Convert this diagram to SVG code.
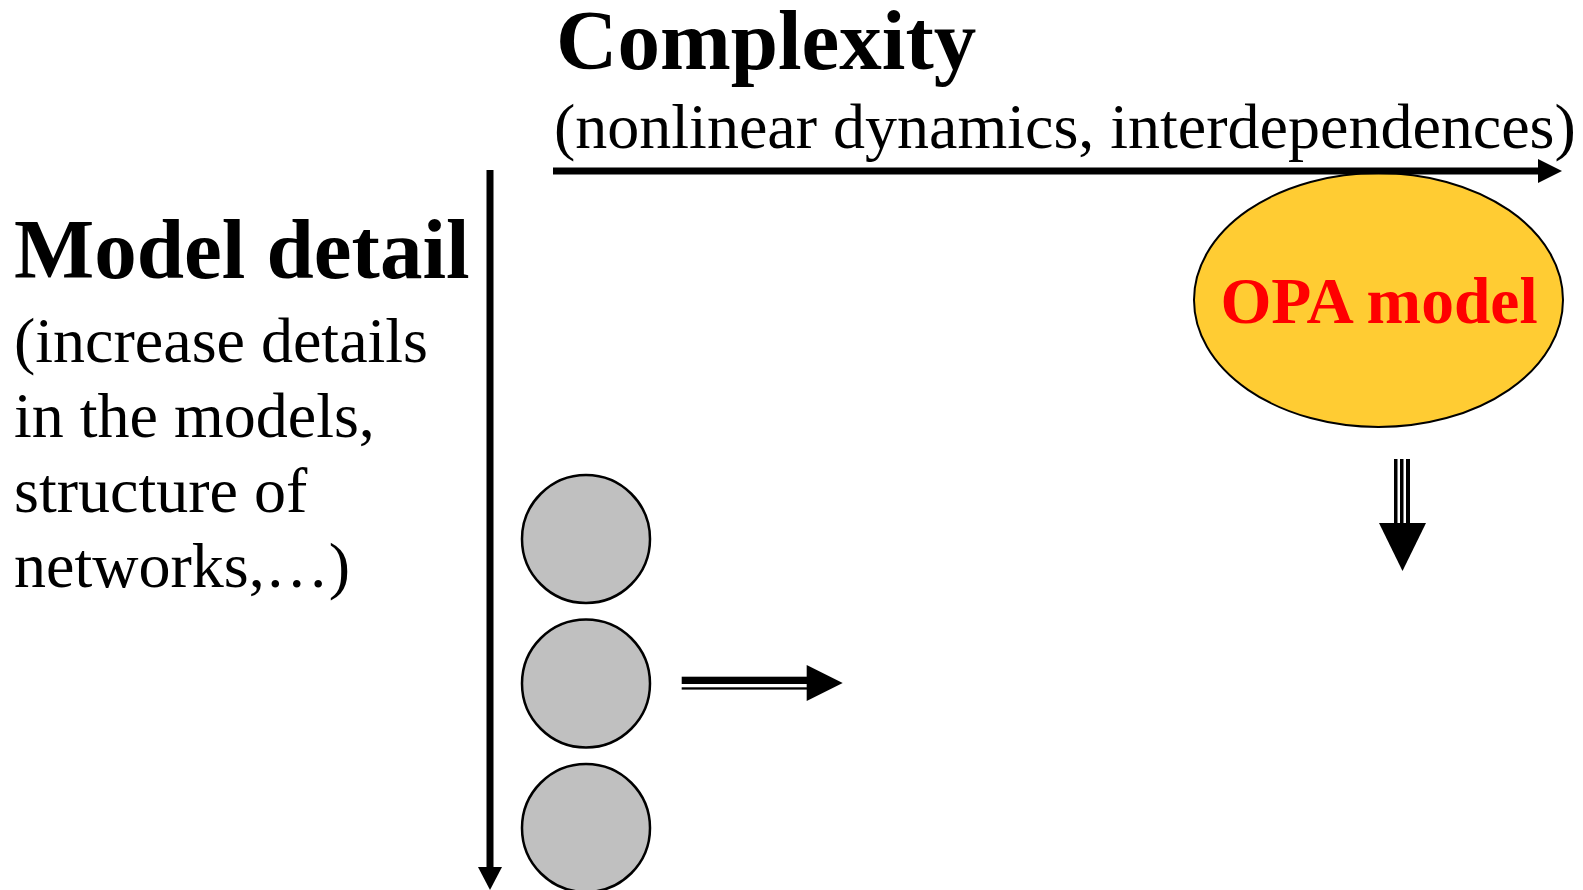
<svg xmlns="http://www.w3.org/2000/svg" width="1583" height="890" viewBox="0 0 1583 890">
<style>
.bold{font-family:"Liberation Serif","Times New Roman",serif;font-weight:bold;font-size:85px;fill:#000}
.reg{font-family:"Liberation Serif","Times New Roman",serif;font-size:64px;fill:#000}
.circ{fill:#C0C0C0;stroke:#000;stroke-width:2.5}
.axis{stroke:#000;stroke-width:7;fill:none}
</style>
<rect width="1583" height="890" fill="#fff"/>
<g id="title-complexity">
<text class="bold" x="556" y="69">Complexity</text>
<text class="reg" x="554" y="148">(nonlinear dynamics, interdependences)</text>
</g>
<g id="title-model-detail">
<text class="bold" x="14" y="278">Model detail</text>
<text class="reg" x="14" y="362">(increase details</text>
<text class="reg" x="14" y="437">in the models,</text>
<text class="reg" x="14" y="512">structure of</text>
<text class="reg" x="14" y="587">networks,…)</text>
</g>
<g id="opa-model">
<ellipse cx="1378.5" cy="300" rx="184.5" ry="127" fill="#FFCC33" stroke="#000" stroke-width="2"/>
<text x="1379" y="323" text-anchor="middle" style="font-family:'Liberation Serif','Times New Roman',serif;font-weight:bold;font-size:65.5px;fill:#FF0000">OPA model</text>
</g>
<g id="circle-1"><circle class="circ" cx="586" cy="539" r="64"/></g>
<g id="circle-2"><circle class="circ" cx="586" cy="683.5" r="64"/></g>
<g id="circle-3"><circle class="circ" cx="586" cy="828" r="64"/></g>
<g id="connectors">
<line class="axis" x1="553" y1="171" x2="1540" y2="171"/>
<polygon points="1538,159 1562,171 1538,183" fill="#000"/>
<line class="axis" x1="490" y1="170" x2="490" y2="869"/>
<polygon points="478,867 502,867 490,890" fill="#000"/>
<rect x="1394" y="459" width="16" height="65" fill="#000"/>
<rect x="1397.5" y="459" width="2.5" height="64" fill="#fff"/>
<rect x="1403.5" y="459" width="2.5" height="64" fill="#fff"/>
<polygon points="1379,523 1426,523 1402.5,571" fill="#000"/>
<rect x="681.7" y="676.7" width="126" height="7.3" fill="#000"/>
<rect x="681.7" y="687.3" width="126" height="2.3" fill="#000"/>
<polygon points="806.7,665 842.7,683 806.7,701" fill="#000"/>
</g>
</svg>
